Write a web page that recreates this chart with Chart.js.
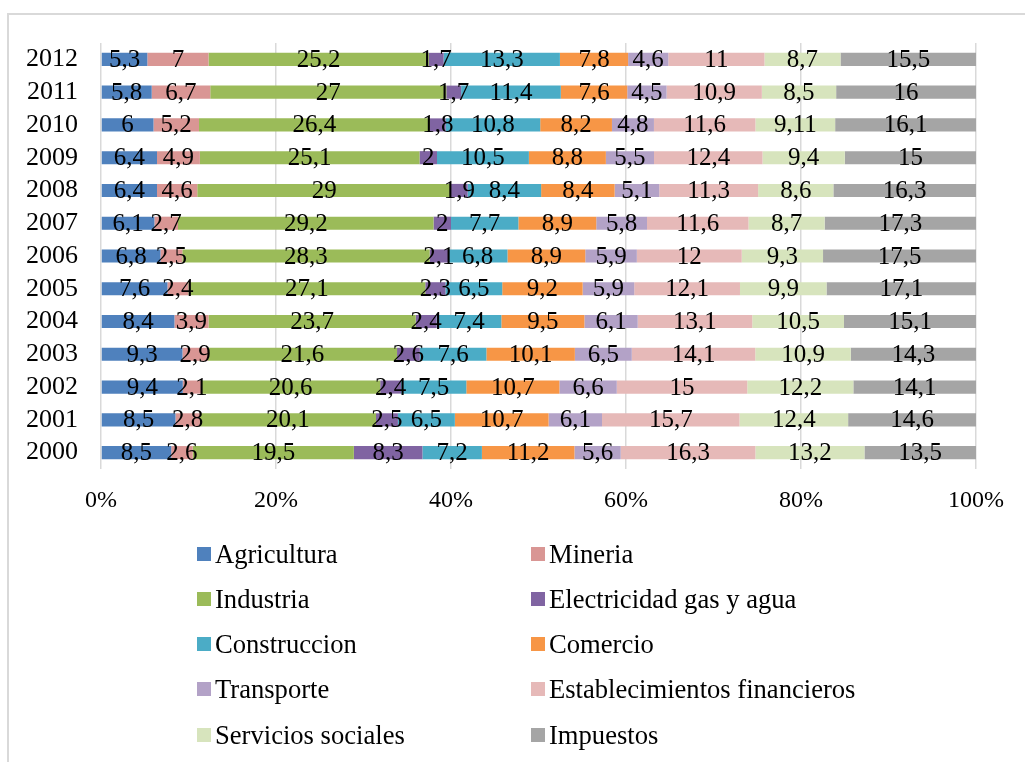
<!DOCTYPE html>
<html lang="es">
<head>
<meta charset="utf-8">
<title>Composición del PIB por sector, 2000-2012</title>
<script src="https://cdn.jsdelivr.net/npm/chart.js@4.4.1/dist/chart.umd.min.js"></script>
<style>
  html, body { margin: 0; padding: 0; background: #ffffff; }
  body { width: 1025px; height: 762px; overflow: hidden; position: relative; font-family: "Liberation Serif", "Times New Roman", serif; }
  #frame { position: absolute; left: 7px; top: 13px; width: 1200px; height: 900px; border: 2px solid #d9d9d9; box-sizing: border-box; }
  #wrap { position: absolute; left: 0; top: 0; width: 1025px; height: 762px; }
  .lg-box { position: absolute; width: 14px; height: 14px; }
  .lg-text { position: absolute; font-size: 26.6px; line-height: 26px; color: #000; white-space: nowrap; }
</style>
</head>
<body>
<div id="frame"></div>
<div id="wrap"><canvas id="chart" width="1025" height="762"></canvas></div>
<div id="legend"></div>
<script>
// Years on the category axis (2000 at the bottom)
const years = ['2000','2001','2002','2003','2004','2005','2006','2007','2008','2009','2010','2011','2012'];

// Sector shares per year, in the same order as `years`
const agricultura    = [8.5, 8.5, 9.4, 9.3, 8.4, 7.6, 6.8, 6.1, 6.4, 6.4, 6, 5.8, 5.3];
const mineria        = [2.6, 2.8, 2.1, 2.9, 3.9, 2.4, 2.5, 2.7, 4.6, 4.9, 5.2, 6.7, 7];
const industria      = [19.5, 20.1, 20.6, 21.6, 23.7, 27.1, 28.3, 29.2, 29, 25.1, 26.4, 27, 25.2];
const electricidad   = [8.3, 2.5, 2.4, 2.6, 2.4, 2.3, 2.1, 2, 1.9, 2, 1.8, 1.7, 1.7];
const construccion   = [7.2, 6.5, 7.5, 7.6, 7.4, 6.5, 6.8, 7.7, 8.4, 10.5, 10.8, 11.4, 13.3];
const comercio       = [11.2, 10.7, 10.7, 10.1, 9.5, 9.2, 8.9, 8.9, 8.4, 8.8, 8.2, 7.6, 7.8];
const transporte     = [5.6, 6.1, 6.6, 6.5, 6.1, 5.9, 5.9, 5.8, 5.1, 5.5, 4.8, 4.5, 4.6];
const financieros    = [16.3, 15.7, 15, 14.1, 13.1, 12.1, 12, 11.6, 11.3, 12.4, 11.6, 10.9, 11];
const sociales       = [13.2, 12.4, 12.2, 10.9, 10.5, 9.9, 9.3, 8.7, 8.6, 9.4, 9.11, 8.5, 8.7];
const impuestos      = [13.5, 14.6, 14.1, 14.3, 15.1, 17.1, 17.5, 17.3, 16.3, 15, 16.1, 16, 15.5];

const sectorNames = ['Agricultura','Mineria','Industria','Electricidad gas y agua','Construccion',
                     'Comercio','Transporte','Establecimientos financieros','Servicios sociales','Impuestos'];
const sectorValues = [agricultura, mineria, industria, electricidad, construccion,
                      comercio, transporte, financieros, sociales, impuestos];
const sectorColors = ['#4f81bd','#d99694','#9bbb59','#8064a2','#4bacc6',
                      '#f79646','#b3a2c7','#e6b9b8','#d7e4bd','#a5a5a5'];

// X axis tick labels (100% stacked scale)
const xTicks = ['0%','20%','40%','60%','80%','100%'];

// Each bar is stretched to 100 %: convert raw shares to percent of the yearly total
const totals = years.map((_, i) => sectorValues.reduce((s, arr) => s + arr[i], 0));

const datasets = sectorNames.map((name, k) => ({
  label: name,
  raw: sectorValues[k],
  data: sectorValues[k].map((v, i) => v / totals[i] * 100),
  backgroundColor: sectorColors[k],
  borderWidth: 0,
  barPercentage: 0.4,
  categoryPercentage: 1.0
}));

// Writes each raw value (decimal comma) in the middle of its segment
const segmentLabels = {
  id: 'segmentLabels',
  afterDatasetsDraw(chart) {
    const ctx = chart.ctx;
    ctx.save();
    ctx.font = '25px "Liberation Serif", "Times New Roman", serif';
    ctx.fillStyle = '#000000';
    ctx.textAlign = 'center';
    ctx.textBaseline = 'middle';
    chart.data.datasets.forEach((ds, di) => {
      const meta = chart.getDatasetMeta(di);
      meta.data.forEach((el, i) => {
        const txt = String(ds.raw[i]).replace('.', ',');
        ctx.fillText(txt, (el.x + el.base) / 2, el.y + 1);
      });
    });
    ctx.restore();
  }
};

new Chart(document.getElementById('chart'), {
  type: 'bar',
  data: { labels: years, datasets },
  options: {
    indexAxis: 'y',
    responsive: false,
    animation: false,
    layout: { padding: { top: 43, right: 49, bottom: 233, left: 0 } },
    plugins: { legend: { display: false }, tooltip: { enabled: false } },
    scales: {
      x: {
        stacked: true,
        min: 0,
        max: 100,
        afterFit(scale) { scale.height = 60; },
        border: { display: false },
        grid: { color: '#d9d9d9', lineWidth: 1.5, drawTicks: false },
        ticks: {
          stepSize: 20,
          padding: 17,
          color: '#000000',
          font: { family: '"Liberation Serif", "Times New Roman", serif', size: 24 },
          callback: (v) => xTicks[Math.round(v / 20)]
        }
      },
      y: {
        stacked: true,
        reverse: true,
        afterFit(scale) { scale.width = 101; },
        border: { display: false },
        grid: { display: false, drawTicks: false },
        ticks: {
          autoSkip: false,
          padding: 23,
          color: '#000000',
          font: { family: '"Liberation Serif", "Times New Roman", serif', size: 26 }
        }
      }
    }
  },
  plugins: [segmentLabels]
});

// Two-column legend below the plot
const legendEl = document.getElementById('legend');
const colX = [197, 531];
const textX = [215, 549];
const baseY = [563, 608, 653, 698, 744];
sectorNames.forEach((name, k) => {
  const col = k % 2, row = Math.floor(k / 2);
  const box = document.createElement('div');
  box.className = 'lg-box';
  box.style.left = colX[col] + 'px';
  box.style.top = (baseY[row] - 16) + 'px';
  box.style.background = sectorColors[k];
  legendEl.appendChild(box);
  const t = document.createElement('div');
  t.className = 'lg-text';
  t.style.left = textX[col] + 'px';
  t.style.top = (baseY[row] - 22) + 'px';
  t.textContent = name;
  legendEl.appendChild(t);
});
</script>
</body>
</html>
